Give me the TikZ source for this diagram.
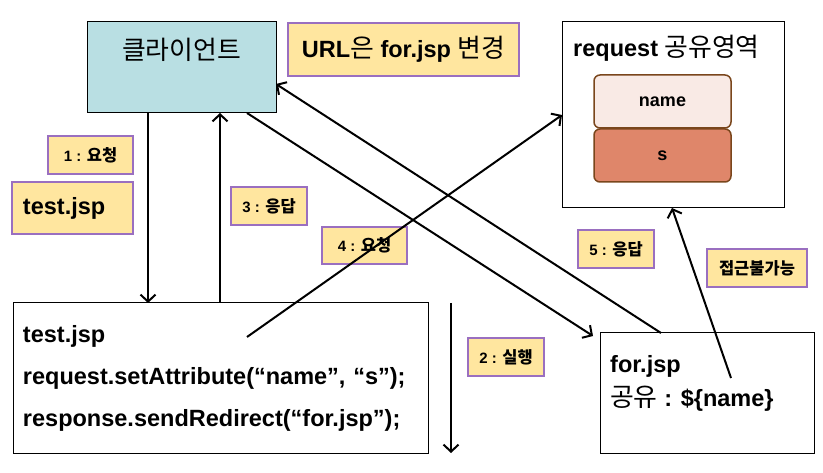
\documentclass[tikz,border=0pt]{standalone}
\usepackage{fontspec}
\setmainfont{Liberation Sans}
\newfontfamily\krfont[Scale=1.1]{Noto Sans CJK KR}
\newcommand{\kr}[1]{{\krfont #1}}
\newcommand{\krn}[1]{{\krfont\mdseries #1}}
\newcommand{\bigfont}{\fontsize{23.5}{28}\selectfont\bfseries}
\usetikzlibrary{positioning}
\usetikzlibrary{arrows.meta}

\definecolor{clientblue}{HTML}{B9DFE3}
\definecolor{notefill}{HTML}{FFE69F}
\definecolor{notedraw}{HTML}{9A6FC0}
\definecolor{namefill}{HTML}{F9EAE5}
\definecolor{valfill}{HTML}{DF866A}
\definecolor{slotdraw}{HTML}{7A461C}

\begin{document}
\begin{tikzpicture}[x=1pt,y=-1pt,
                    box/.style={draw=black,
                                line width=1pt,
                                inner sep=0pt,outer sep=0pt,
                                anchor=north west
                               },
                    note/.style={draw=notedraw,fill=notefill,
                                 line width=1.2pt,
                                 inner sep=0pt,outer sep=0pt,
                                 anchor=north west,
                                 font=\fontsize{15}{18}\selectfont\bfseries
                                },
                    slot/.style={draw=slotdraw,
                                 line width=1.5pt,
                                 rounded corners=6pt,
                                 minimum width=137pt,minimum height=53pt,
                                 inner sep=0pt,outer sep=0pt,
                                 font=\fontsize{18}{21}\selectfont\bfseries
                                },
                    flow/.style={line width=2pt,
                                 -{Straight Barb[length=7pt,width=15pt,line width=2pt]}
                                }
                   ]
  \useasboundingbox (0,0) rectangle (823,473);

  % boxes
  \node[box,fill=clientblue,minimum width=189pt,minimum height=91pt] (client) at (87,22) { };
  \node[font=\bigfont,inner sep=0pt] (clientname) at ([yshift=-28pt]client.north) {\krn{클라이언트}};
  \node[note,font=\bigfont,minimum width=231pt,minimum height=53pt] (urlnote) at (288,23) {URL\krn{은} for.jsp \krn{변경}};

  \node[box,minimum width=222pt,minimum height=186pt] (shared) at (562,22) { };
  \node[font=\bigfont,inner sep=0pt,anchor=west] (sharedtitle) at ([xshift=11pt,yshift=-26pt]shared.north west) {request \krn{공유영역}};
  \node[slot,fill=namefill,anchor=north west] (namekey) at (594,75) {name};
  \node[slot,fill=valfill,below=1pt of namekey] (nameval) {s};

  \node[box,minimum width=415pt,minimum height=150pt,text width=395pt,inner xsep=10pt,
        align=left,font=\bigfont] (testjsp) at (13,303)
       {test.jsp\\[14pt] request.setAttribute(“name”, “s”);\\[14pt] response.sendRedirect(“for.jsp”);};

  \node[box,minimum width=214pt,minimum height=120pt] (forjsp) at (600,333) { };
  \node[font=\bigfont,inner sep=0pt,anchor=north west,align=left] (fortext) at ([xshift=10pt,yshift=-22pt]forjsp.north west)
       {for.jsp\\[6pt] \krn{공유} : \$\{name\}};

  % notes
  \node[note,minimum width=85pt,minimum height=38pt] (step1) at (48,136) {1 : \kr{요청}};
  \node[note,font=\bigfont,minimum width=121pt,minimum height=52pt,text width=99pt,inner xsep=11pt,align=left] (testnote) at (12,182) {test.jsp};
  \node[note,minimum width=76pt,minimum height=38pt] (step3) at (231,187) {3 : \kr{응답}};
  \node[note,minimum width=85pt,minimum height=37pt] (step4) at (322,227) {4 : \kr{요청}};
  \node[note,minimum width=76pt,minimum height=38pt] (step5) at (578,230) {5 : \kr{응답}};
  \node[note,minimum width=100pt,minimum height=38pt] (noaccess) at (707,249) {\kr{접근불가능}};
  \node[note,minimum width=76pt,minimum height=38pt] (step2) at (468,338) {2 : \kr{실행}};

  % arrows
  \draw [flow] ([xshift=61pt]client.south west) -- ([xshift=135pt]testjsp.north west);
  \draw [flow] ([xshift=207pt]testjsp.north west) -- ([xshift=133pt]client.south west);
  \draw [flow] ([xshift=160pt]client.south west) -- ([xshift=-7pt,yshift=-3pt]forjsp.north west);
  \draw [flow] ([xshift=61pt]forjsp.north west) -- ([yshift=-62pt]client.north east);
  \draw [flow] ([xshift=234pt,yshift=-34pt]testjsp.north west) -- ([yshift=-93pt]shared.north west);
  \draw [flow] ([xshift=131pt,yshift=-45pt]forjsp.north west) -- ([xshift=110pt]shared.south west);
  \coordinate (runtop) at (451,303);
  \coordinate (runend) at (451,453);
  \draw [flow] (runtop) -- (runend);

\end{tikzpicture}
\end{document}
